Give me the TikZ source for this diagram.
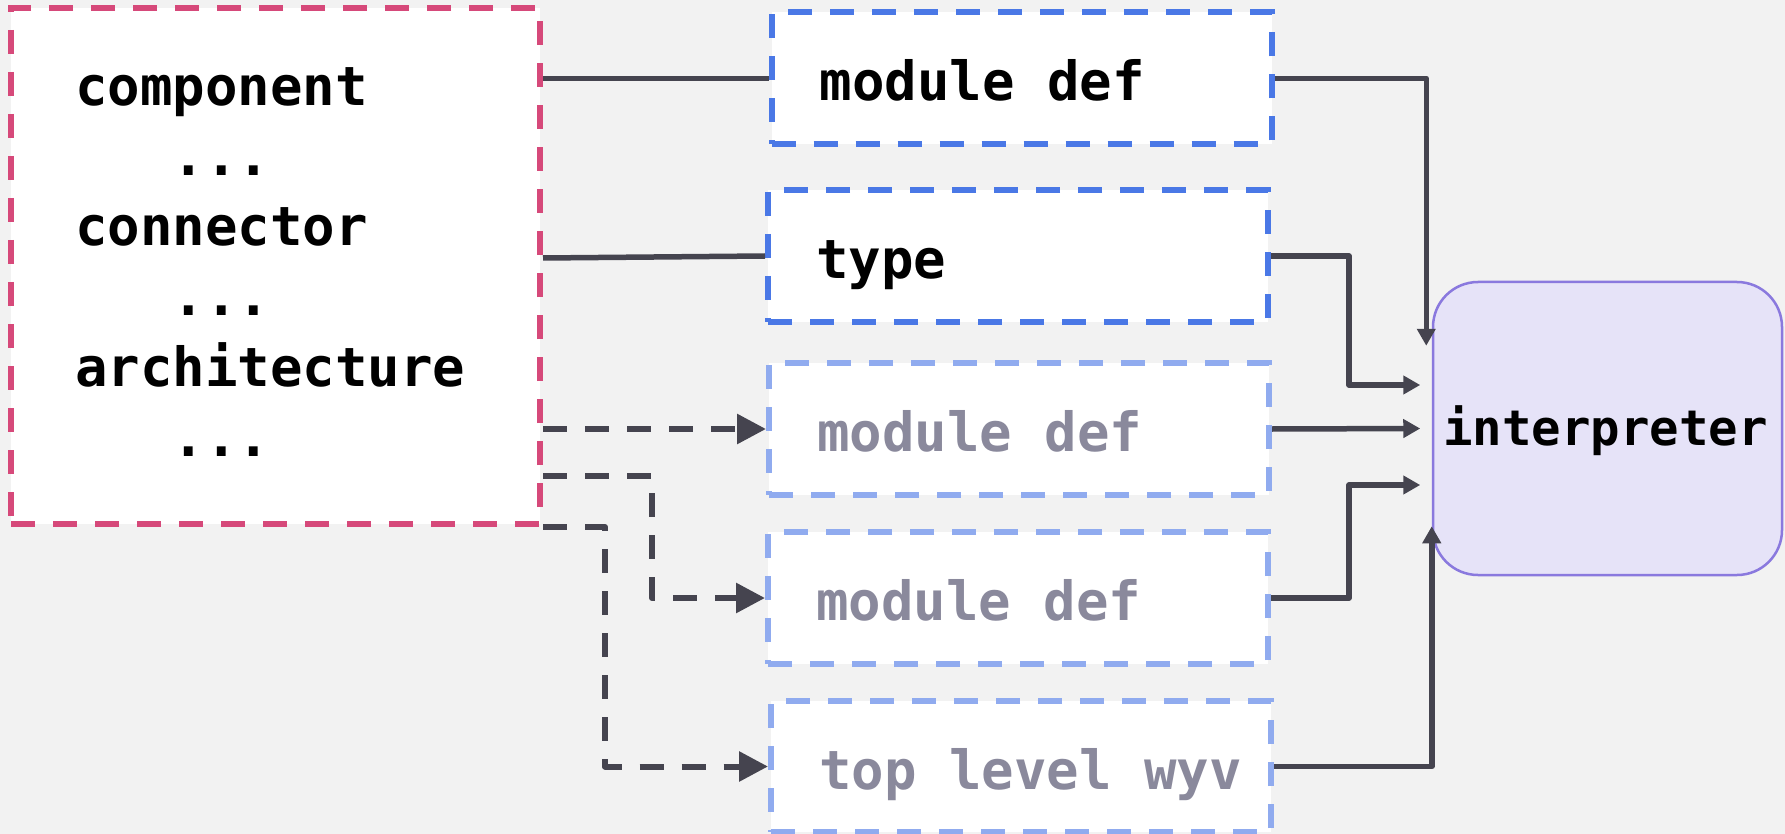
\documentclass[tikz,border=0pt]{standalone}
\usepackage{fontspec}
\newfontfamily\codefont{DejaVu Sans Mono}
\usetikzlibrary{arrows.meta,calc}
\definecolor{bg}{HTML}{F2F2F2}
\definecolor{pinkc}{HTML}{D6497A}
\definecolor{bluec}{HTML}{4A78E6}
\definecolor{lbluec}{HTML}{90ABEF}
\definecolor{linec}{HTML}{45444F}
\definecolor{grayt}{HTML}{8A899C}
\definecolor{ifill}{HTML}{E6E3F8}
\definecolor{iborder}{HTML}{8A79DE}
\newcommand\boxtxt[1]{\makebox[404pt][l]{#1}}
\begin{document}
\begin{tikzpicture}[x=1pt,y=-1pt,
  txt/.style={font=\codefont\bfseries\fontsize{54pt}{64pt}\selectfont},
  leftbox/.style={draw=pinkc, fill=white, line width=6pt, dash pattern=on 24pt off 18pt,
    minimum width=529pt, minimum height=516pt, inner sep=0pt},
  defbox/.style={txt, fill=white, line width=6pt, dash pattern=on 24pt off 18pt,
    minimum width=500pt, minimum height=132pt, inner xsep=48pt, inner ysep=0pt,
    text height=50pt, text depth=5pt},
  solidbox/.style={defbox, draw=bluec, text=black},
  fadebox/.style={defbox, draw=lbluec, text=grayt},
  interp/.style={draw=iborder, fill=ifill, line width=2.5pt, rounded corners=45pt,
    minimum width=349pt, minimum height=293pt, inner sep=0pt,
    font=\codefont\bfseries\fontsize{49pt}{59pt}\selectfont, text height=40pt, text depth=6pt},
  ltxt/.style={txt, anchor=base west, inner sep=0pt},
  conn/.style={draw=linec, line width=5.5pt, line join=round},
  dconn/.style={conn, line width=6pt, dash pattern=on 24pt off 18pt, -{Triangle[length=29pt,width=29pt]}},
  aconn/.style={conn, -{Triangle[length=17pt,width=18pt]}}
]
\useasboundingbox (0,0) rectangle (1785,834);
\fill[bg] (0,0) rectangle (1785,834);

% left box
\node[leftbox] (L) at (275.5,266) {};
\node[ltxt] (c1) at (75,106) {component};
\node[ltxt] (c2) at (75,176) {\phantom{xxx}...};
\node[ltxt] (c3) at (75,246) {connector};
\node[ltxt] (c4) at (75,316) {\phantom{xxx}...};
\node[ltxt] (c5) at (75,386) {architecture};
\node[ltxt] (c6) at (75,456) {\phantom{xxx}...};

% middle boxes
\node[solidbox] (B1) at (1021.5,78.5) {\boxtxt{module def}};
\node[solidbox] (B2) at (1018,256) {\boxtxt{type}};
\node[fadebox] (B3) at (1019,429) {\boxtxt{module def}};
\node[fadebox] (B4) at (1018,598) {\boxtxt{module def}};
\node[fadebox, minimum height=131pt] (B5) at (1021,766.5) {\boxtxt{top level wyv}};

% interpreter
\node[interp] (I) at (1607.5,428.5) {\hspace*{-4pt}interpreter};

% left connectors
\draw[conn] (L.east |- B1.west) -- (B1.west);
\draw[conn] ([yshift=-2pt]L.east |- B2.west) -- (B2.west);
\draw[dconn] (L.east |- B3.west) -- (B3.west);
\draw[dconn] ([yshift=-210pt]L.east) -| ([xshift=-113pt]B4.west) -- (B4.west);
\draw[dconn] (L.south east) -| ([xshift=-163pt]B5.west) -- (B5.west);

% right connectors
\draw[aconn] (B1.east) -| ([xshift=-5.5pt,yshift=-65pt]I.north west);
\draw[aconn] (B2.east) -- ++(78,0) |- ([xshift=-11.5pt,yshift=43.5pt]I.west);
\draw[aconn] (B3.east) -- ([xshift=-11.5pt]I.west);
\draw[aconn] (B4.east) -- ++(78,0) |- ([xshift=-11.5pt,yshift=-56.5pt]I.west);
\draw[aconn] (B5.east) -| ([yshift=50pt]I.south west);
\end{tikzpicture}
\end{document}
